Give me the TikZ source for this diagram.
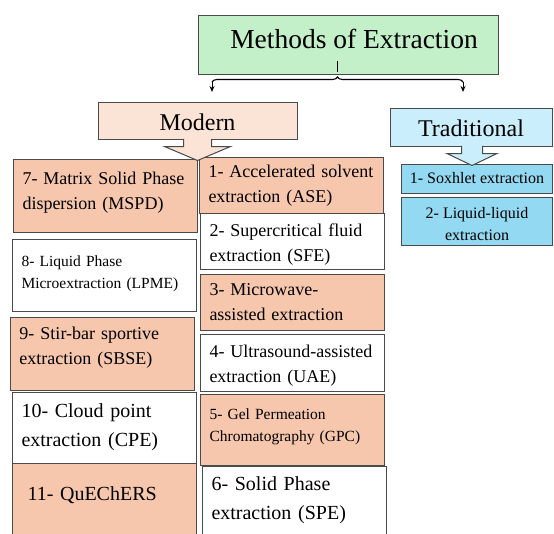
\documentclass[tikz,border=0pt]{standalone}
\usepackage{fontspec}
\setmainfont{Liberation Serif}
\usetikzlibrary{arrows.meta, decorations.pathreplacing}

\definecolor{titlegreen}{HTML}{C3F0C8}
\definecolor{modernpeach}{HTML}{FBE3D6}
\definecolor{methodpeach}{HTML}{F6C6AD}
\definecolor{tradblue}{HTML}{CAEEFB}
\definecolor{methodblue}{HTML}{94D9F2}
\definecolor{edgegray}{HTML}{4A4A4A}

\newcommand{\fsHead}{\fontsize{24}{29}\selectfont}
\newcommand{\fsMid}{\fontsize{18}{25}\selectfont}
\newcommand{\fsSmall}{\fontsize{15.5}{22}\selectfont}
\newcommand{\fsBig}{\fontsize{20}{28.5}\selectfont}

\tikzset{
  catbox/.style={draw=edgegray, line width=1pt, inner sep=0pt},
  method/.style={draw=edgegray, line width=1pt, anchor=north west, inner xsep=9pt,
    inner ysep=0pt, text width=166pt, minimum width=184pt, align=left},
  peach/.style={method, fill=methodpeach},
  plain/.style={method, fill=white},
  callout/.style={draw=edgegray, line width=1pt, line join=miter},
  brace/.style={decorate, decoration={brace, amplitude=5pt}, line width=1.1pt}
}

\begin{document}
\begin{tikzpicture}[x=1pt, y=1pt]
  \useasboundingbox (0,0) rectangle (554,-533);
  \clip (0,0) rectangle (554,-533);

  \node[catbox, fill=titlegreen, minimum width=300pt, minimum height=59pt, text depth=11pt,
    font=\fontsize{27.5}{33}\selectfont] (title) at (348,-44.5) {\hspace*{12pt}Methods of Extraction};
  \node[catbox, fill=modernpeach, minimum width=199pt, minimum height=37pt, text height=19pt,
    text depth=0pt, font=\fsHead] (modern) at (197.5,-120.5) {Modern};
  \node[catbox, fill=tradblue, minimum width=162pt, minimum height=38pt, text height=18pt,
    text depth=0pt, font=\fsHead] (trad) at (471,-127) {Traditional};

  % brace from the title
  \coordinate (braceL) at (212,-82);
  \coordinate (braceR) at (463,-82);
  \coordinate (braceTip) at (337.5,-72);
  \coordinate (toModern) at (212,-92);
  \coordinate (toTrad) at (463,-92);
  \draw[brace] (braceL) -- (braceR);
  \draw[line width=1.1pt] (braceTip) -- ++(0,11);
  \draw[-{Stealth[length=6pt,width=5pt]}, line width=1pt] (braceL) -- (toModern);
  \draw[-{Stealth[length=6pt,width=5pt]}, line width=1pt] (braceR) -- (toTrad);

  % traditional methods
  \node[catbox, fill=methodblue, minimum width=151pt, minimum height=29pt,
    font=\fontsize{16}{22}\selectfont] (soxhlet) at (477,-178.5) {1- Soxhlet extraction};
  \node[catbox, fill=methodblue, minimum width=151pt, minimum height=48pt, align=center,
    text height=39pt, text depth=0pt, font=\fontsize{16}{22}\selectfont] (liquid) at (477,-221)
    {2- Liquid-liquid\\extraction};

  % modern methods
  \node[peach, font=\fsMid, minimum height=73pt, text depth=36pt] (mspd) at (13,-159)
    {7- Matrix Solid Phase\\dispersion (MSPD)};
  \node[peach, font=\fsMid, minimum height=56pt] (ase) at (199,-157)
    {1- Accelerated solvent\\extraction (ASE)};
  \node[plain, font=\fsMid, minimum height=56pt, text depth=23pt] (sfe) at (200,-213)
    {2- Supercritical fluid\\extraction (SFE)};
  \node[plain, font=\fsSmall, minimum height=72pt, text depth=28pt] (lpme) at (12,-239)
    {8- Liquid Phase\\Microextraction (LPME)};
  \node[peach, font=\fsMid, minimum height=56pt] (mae) at (200,-274)
    {3- Microwave-\\assisted extraction};
  \node[peach, font=\fsMid, minimum height=73pt, text depth=41pt] (sbse) at (10,-317)
    {9- Stir-bar sportive\\extraction (SBSE)};
  \node[plain, font=\fsMid, minimum height=57pt, text depth=23pt] (uae) at (200,-334)
    {4- Ultrasound-assisted\\extraction (UAE)};
  \node[plain, font=\fsBig, minimum height=71pt, text depth=34pt] (cpe) at (12,-392)
    {10- Cloud point\\extraction (CPE)};
  \node[peach, font=\fsSmall, minimum height=71pt, text depth=32.5pt] (gpc) at (200,-394)
    {5- Gel Permeation\\Chromatography (GPC)};
  \node[peach, font=\fsBig, minimum height=82pt, text height=14pt, text depth=22pt] (quechers) at (12,-463)
    {\hspace*{6pt}11- QuEChERS};
  \node[plain, font=\fsBig, minimum height=82pt, text depth=47pt] (spe) at (202,-466)
    {6- Solid Phase\\extraction (SPE)};

  % callout arrows
  \draw[callout, fill=modernpeach] ([xshift=-14pt,yshift=0.6pt]modern.south) -- ++(0,-7.6)
    -- ++(-19,0) -- ++(33,-14) -- ++(33,14) -- ++(-19,0) -- ++(0,7.6);
  \draw[callout, fill=tradblue] ([xshift=-9.5pt,yshift=0.6pt]trad.south) -- ++(0,-7.6)
    -- ++(-14.5,0) -- ++(25,-12) -- ++(25,12) -- ++(-14.5,0) -- ++(0,7.6);
\end{tikzpicture}
\end{document}
